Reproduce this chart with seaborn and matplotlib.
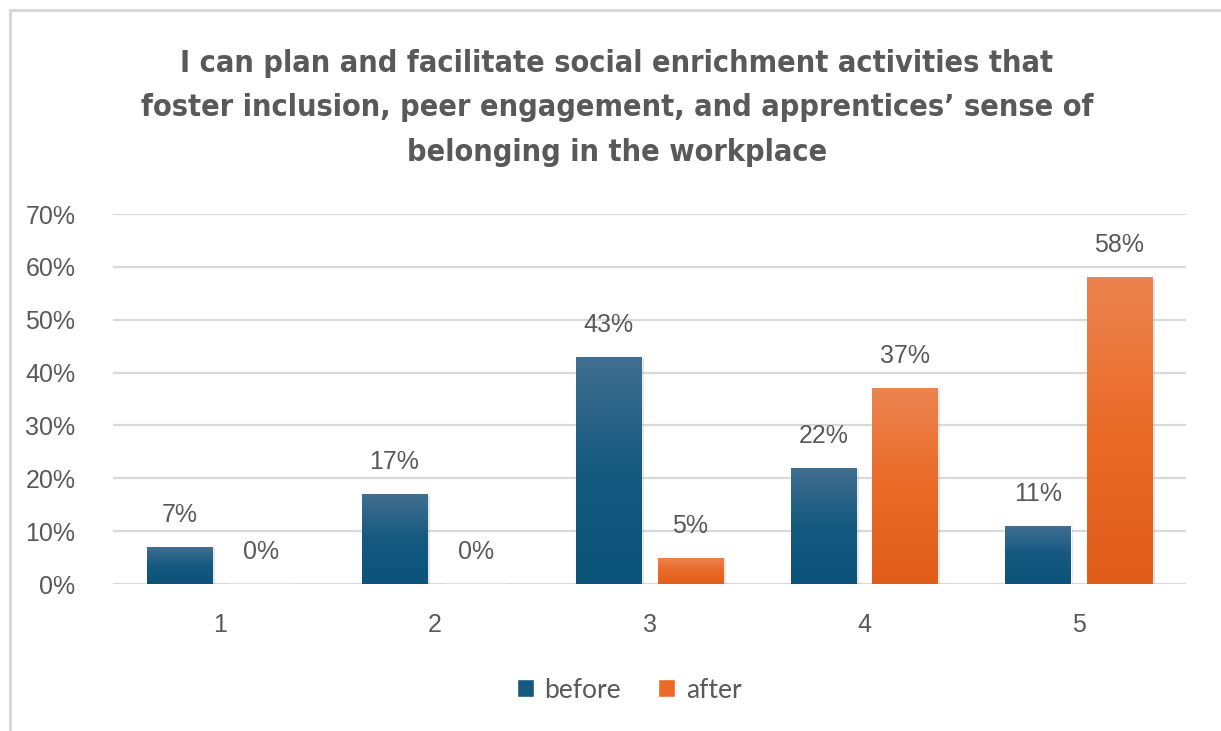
import numpy as np
import pandas as pd
import matplotlib
matplotlib.use("Agg")
import matplotlib.pyplot as plt
import matplotlib.patheffects as pe
from matplotlib import font_manager
from matplotlib.colors import LinearSegmentedColormap
from matplotlib.patches import Rectangle
import seaborn as sns

# Survey response distribution (rating 1-5), share of respondents
ratings = ["1", "2", "3", "4", "5"]
before = [0.07, 0.17, 0.43, 0.22, 0.11]
after = [0.00, 0.00, 0.05, 0.37, 0.58]
groups = ["before", "after"]
yticks = [0.0, 0.1, 0.2, 0.3, 0.4, 0.5, 0.6, 0.7]
title = ("I can plan and facilitate social enrichment activities that\n"
         "foster inclusion, peer engagement, and apprentices\u2019 sense of\n"
         "belonging in the workplace")

df = pd.DataFrame({
    "rating": ratings * 2,
    "share": before + after,
    "group": [groups[0]] * len(ratings) + [groups[1]] * len(ratings),
})

sns.set_theme(style="white")
plt.rcParams["font.family"] = ["Liberation Sans", "DejaVu Sans"]

# narrow bold face for the heading: condensed DejaVu if present, else Roboto
cond = font_manager.FontProperties(family="DejaVu Sans", weight="bold", stretch="condensed")
cond_path = font_manager.findfont(cond, fallback_to_default=True)
if "Condensed" in cond_path:
    title_font = dict(family=["DejaVu Sans"], fontstretch="condensed", fontsize=22)
else:
    title_font = dict(family=["Roboto", "DejaVu Sans"], fontsize=22.2)

base = {"before": "#15597f", "after": "#ea6a26"}
tops = {"before": "#416f91", "after": "#ec8450"}
bottoms = {"before": "#0b5379", "after": "#e05d1a"}

W, H = 1221, 731
fig = plt.figure(figsize=(W / 100, H / 100), dpi=100)
fig.patch.set_facecolor("white")

# chart area frame
fig.patches.append(Rectangle((10 / W, -0.1), 1.2, 1.1 - 10 / H,
                             transform=fig.transFigure, fill=False,
                             edgecolor="#d4d4d4", linewidth=2.0))

ax = fig.add_axes([113 / W, 1 - 584 / H, (1186 - 113) / W, (584 - 214) / H])

sns.barplot(data=df, x="rating", y="share", hue="group", order=ratings,
            hue_order=groups, palette=base, width=0.76, gap=0.2,
            legend=False, ax=ax, zorder=3)

ax.set_yticks(yticks)
ax.set_yticklabels([f"{int(round(v * 100))}%" for v in yticks])
ax.yaxis.grid(True, color="#d9d9d9", linewidth=1.6, zorder=0)
ax.set_axisbelow(True)
for s in ax.spines.values():
    s.set_visible(False)
ax.tick_params(axis="y", length=0, pad=27, labelsize=18, labelcolor="#595959")
ax.tick_params(axis="x", length=0, pad=21, labelsize=18, labelcolor="#595959")
ax.set_xlabel("")
ax.set_ylabel("")

# vertical gradient fill, soft shadow and value labels on each bar
values = {"before": before, "after": after}
for container, g in zip(ax.containers, groups):
    cmap = LinearSegmentedColormap.from_list(g, [bottoms[g], base[g], tops[g]])
    for bar, v in zip(container, values[g]):
        x0, w, h = bar.get_x(), bar.get_width(), bar.get_height()
        if h > 0:
            bar.set_path_effects([pe.SimplePatchShadow(offset=(2, -1), alpha=0.15,
                                                       shadow_rgbFace="#555555"),
                                  pe.Normal()])
            grad = np.linspace(0, 1, 256).reshape(-1, 1)
            im = ax.imshow(grad, cmap=cmap, origin="lower", aspect="auto",
                           extent=(x0, x0 + w, 0, h), zorder=3.5)
            im.set_clip_path(bar)
        ax.annotate(f"{int(round(v * 100))}%", (x0 + w / 2, h),
                    xytext=(0, 20), textcoords="offset pixels",
                    ha="center", va="bottom", fontsize=18, color="#595959")
ax.set_xlim(-0.5, 4.5)
ax.set_ylim(0, 0.7)

fig.text(617 / W, 1 - 108 / H, title, ha="center", va="center",
         fontweight="bold", color="#595959", linespacing=1.68, **title_font)

handles = [Rectangle((0, 0), 1, 1, facecolor=base[g]) for g in groups]
leg = fig.legend(handles, groups, loc="center", bbox_to_anchor=(629 / W, 1 - 690 / H),
                 ncol=2, frameon=False, handlelength=0.65, handleheight=0.65,
                 handletextpad=0.4, columnspacing=1.4,
                 prop={"family": ["Lato", "DejaVu Sans"], "size": 19})
for t in leg.get_texts():
    t.set_color("#595959")

fig.savefig("out.png", dpi=100, facecolor="white")
